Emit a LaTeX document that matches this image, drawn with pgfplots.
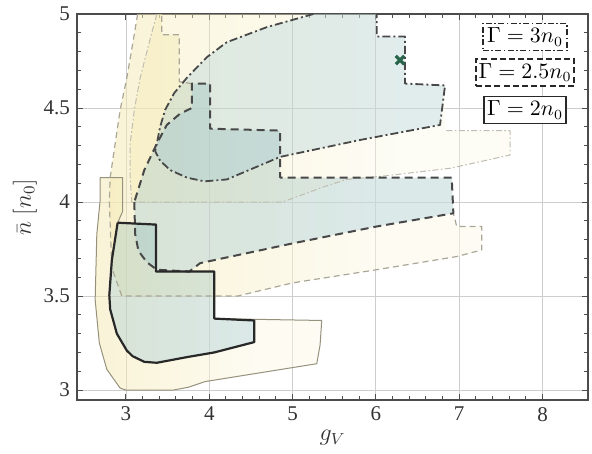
\documentclass[border=0pt]{standalone}
\usepackage{pgfplots}
\pgfplotsset{compat=1.18}
\usepackage{fontspec}
\setmainfont{Liberation Serif}
\definecolor{oy}{RGB}{240,226,150}
\definecolor{ib}{RGB}{140,190,210}
\definecolor{thinc}{RGB}{150,145,125}
\definecolor{thk}{RGB}{40,40,40}
\definecolor{xg}{RGB}{40,100,75}
\definecolor{gridc}{RGB}{205,205,205}
\pgfdeclarehorizontalshading{yfade}{100bp}{color(0bp)=(oy); color(30bp)=(oy!70); color(60bp)=(oy!25); color(100bp)=(oy!20)}
\tikzset{
  thS/.style={line width=1.1pt, color=thk, line join=round},
  thD/.style={line width=1.0pt, color=thk!85, dash pattern=on 4pt off 2.5pt, line join=round},
  thDD/.style={line width=0.9pt, color=thk!85, dash pattern=on 4pt off 1.5pt on 1pt off 1.5pt, line join=round},
  tnS/.style={line width=0.5pt, color=thinc, line join=round},
  tnD/.style={line width=0.6pt, color=thinc!80, dash pattern=on 3pt off 2pt, line join=round},
  tnDD/.style={line width=0.5pt, color=thinc!60, dash pattern=on 3pt off 1.2pt on 0.8pt off 1.2pt, line join=round},
}
\begin{document}
\begin{tikzpicture}
\begin{axis}[
  scale only axis, width=255.5pt, height=193pt,
  xmin=2.412, xmax=8.546, ymin=2.947, ymax=5.0,
  xtick={3,4,5,6,7,8}, ytick={3,3.5,4,4.5,5},
  minor x tick num=4, minor y tick num=4,
  tick align=inside, major tick length=3pt, minor tick length=1.8pt,
  grid=major, major grid style={gridc, line width=0.4pt},
  axis line style={black!70, line width=0.8pt},
  every tick/.style={black!70, line width=0.5pt},
  /pgf/number format/assume math mode=true,
  tick label style={font=\fontsize{10.5}{12}\selectfont, black!80},
  xlabel={$g_V$}, ylabel={$\bar{n}\ [n_0]$},
  label style={font=\large, black!80},
  xlabel style={at={(axis description cs:0.5,-0.098)}, anchor=center},
  ylabel style={at={(axis description cs:-0.102,0.5)}, anchor=center},
  clip=true,
]
% ---- outer (yellow) fills
\addplot[draw=none, shade, shading=yfade, opacity=0.5] coordinates {
(2.69,4.13) (2.96,4.13) (2.96,3.95) (2.90,3.89) (3.36,3.88) (3.36,3.63) (4.06,3.63) (4.06,3.38) (5.35,3.37) (5.33,3.24) (5.29,3.14) (3.95,3.045) (3.75,3.015) (3.57,3.0) (3.0,3.0) (2.93,3.01) (2.77,3.11) (2.68,3.25) (2.63,3.48) (2.65,3.83) (2.69,4.01) (2.69,4.13)};
\addplot[draw=none, shade, shading=yfade, opacity=0.5] coordinates {
(3.14,5.0) (3.08,4.84) (3.01,4.66) (2.93,4.49) (2.87,4.31) (2.81,4.13) (2.80,4.0) (2.83,3.65) (2.95,3.5) (4.34,3.5) (5.0,3.57) (6.01,3.64) (6.97,3.71) (7.27,3.745) (7.27,3.87) (6.97,3.87) (6.93,3.94) (6.91,4.13) (4.85,4.13) (4.85,4.38) (4.01,4.39) (4.01,4.63) (3.64,4.64) (3.64,4.89) (3.43,4.89) (3.43,5.0) (3.14,5.0)};
\addplot[draw=none, shade, shading=yfade, opacity=0.4] coordinates {
(3.37,5.0) (3.28,4.85) (3.17,4.66) (3.10,4.49) (3.05,4.31) (3.05,4.13) (3.07,4.0) (4.88,4.0) (5.37,4.08) (5.65,4.12) (6.13,4.14) (6.9,4.18) (7.61,4.25) (7.61,4.38) (6.83,4.38) (6.83,4.62) (6.35,4.63) (6.35,4.88) (6.01,4.88) (6.01,5.0) (3.37,5.0)};
% ---- inner (blue-green) fills
\addplot[draw=none, fill=ib, fill opacity=0.3] coordinates {
(2.90,3.89) (3.36,3.88) (3.36,3.63) (4.06,3.63) (4.06,3.38) (4.54,3.37) (4.54,3.255) (4.06,3.20) (3.73,3.175) (3.37,3.145) (3.22,3.15) (3.08,3.18) (3.01,3.21) (2.89,3.30) (2.81,3.43) (2.80,3.505) (2.83,3.69) (2.90,3.89)};
\addplot[draw=none, fill=ib, fill opacity=0.3] coordinates {
(3.10,4.0) (3.11,3.83) (3.15,3.74) (3.25,3.68) (3.37,3.64) (3.76,3.63) (3.89,3.675) (5.0,3.78) (6.01,3.87) (6.93,3.94) (6.91,4.13) (4.85,4.13) (4.85,4.38) (4.01,4.39) (4.01,4.63) (3.79,4.63) (3.79,4.50) (3.65,4.47) (3.49,4.41) (3.37,4.31) (3.22,4.17) (3.10,4.0)};
\addplot[draw=none, fill=ib, fill opacity=0.25] coordinates {
(5.25,5.0) (5.09,4.98) (4.69,4.93) (4.21,4.85) (3.97,4.77) (3.73,4.66) (3.58,4.58) (3.47,4.49) (3.41,4.40) (3.37,4.31) (3.35,4.27) (3.41,4.22) (3.53,4.17) (3.73,4.13) (3.94,4.11) (4.21,4.12) (4.85,4.24) (5.81,4.33) (6.77,4.41) (6.83,4.62) (6.35,4.63) (6.35,4.88) (6.01,4.88) (6.01,5.0) (5.25,5.0)};
% ---- thin outlines
\addplot[tnS] coordinates {
(2.69,4.13) (2.96,4.13) (2.96,3.95) (2.90,3.89) (3.36,3.88) (3.36,3.63) (4.06,3.63) (4.06,3.38) (5.35,3.37) (5.33,3.24) (5.29,3.14) (3.95,3.045) (3.75,3.015) (3.57,3.0) (3.0,3.0) (2.93,3.01) (2.77,3.11) (2.68,3.25) (2.63,3.48) (2.65,3.83) (2.69,4.01) (2.69,4.13)};
\addplot[tnD] coordinates {
(3.14,5.0) (3.08,4.84) (3.01,4.66) (2.93,4.49) (2.87,4.31) (2.81,4.13) (2.80,4.0) (2.83,3.65) (2.95,3.5) (4.34,3.5) (5.0,3.57) (6.01,3.64) (6.97,3.71) (7.27,3.745) (7.27,3.87) (6.97,3.87) (6.93,3.94)};
\addplot[tnD] coordinates {(3.79,4.63) (3.64,4.64) (3.64,4.89) (3.43,4.89) (3.43,5.0)};
\addplot[tnDD] coordinates {
(3.37,5.0) (3.28,4.85) (3.17,4.66) (3.10,4.49) (3.05,4.31) (3.05,4.13) (3.07,4.0) (4.88,4.0) (5.37,4.08) (5.65,4.12) (6.13,4.14) (6.9,4.18) (7.61,4.25) (7.61,4.38) (6.83,4.38)};
% ---- thick outlines
\addplot[thDD] coordinates {
(5.25,5.0) (5.09,4.98) (4.69,4.93) (4.21,4.85) (3.97,4.77) (3.73,4.66) (3.58,4.58) (3.47,4.49) (3.41,4.40) (3.37,4.31) (3.35,4.27) (3.41,4.22) (3.53,4.17) (3.73,4.13) (3.94,4.11) (4.21,4.12) (4.85,4.24) (5.81,4.33) (6.77,4.41) (6.83,4.62) (6.35,4.63) (6.35,4.88) (6.01,4.88) (6.01,5.0)};
\addplot[thD] coordinates {
(3.10,4.0) (3.11,3.83) (3.15,3.74) (3.25,3.68) (3.37,3.64) (3.76,3.63) (3.89,3.675) (5.0,3.78) (6.01,3.87) (6.93,3.94) (6.91,4.13) (4.85,4.13) (4.85,4.38) (4.01,4.39) (4.01,4.63) (3.79,4.63) (3.79,4.50) (3.65,4.47) (3.49,4.41) (3.37,4.31) (3.22,4.17) (3.10,4.0)};
\addplot[thS] coordinates {
(2.90,3.89) (3.36,3.88) (3.36,3.63) (4.06,3.63) (4.06,3.38) (4.54,3.37) (4.54,3.255) (4.06,3.20) (3.73,3.175) (3.37,3.145) (3.22,3.15) (3.08,3.18) (3.01,3.21) (2.89,3.30) (2.81,3.43) (2.80,3.505) (2.83,3.69) (2.90,3.89)};
% ---- marker
\addplot[only marks, mark=x, mark size=3pt, color=xg, line width=1.6pt] coordinates {(6.29,4.755)};
% ---- legend boxes
\node[draw=thk, fill=white, line width=0.8pt, dash pattern=on 3pt off 1.2pt on 0.8pt off 1.2pt, minimum width=42pt, minimum height=13.5pt, inner sep=1pt, font=\fontsize{10.5}{12}\selectfont] at (axis cs:7.79,4.878) {$\Gamma = 3n_0$};
\node[draw=thk, fill=white, line width=0.8pt, dash pattern=on 3pt off 1.6pt, minimum width=49pt, minimum height=13.5pt, inner sep=1pt, font=\fontsize{10.5}{12}\selectfont] at (axis cs:7.79,4.69) {$\Gamma = 2.5n_0$};
\node[draw=thk, fill=white, line width=0.8pt, minimum width=41pt, minimum height=13.5pt, inner sep=1pt, font=\fontsize{10.5}{12}\selectfont] at (axis cs:7.79,4.49) {$\Gamma = 2n_0$};
\end{axis}
\path ([shift={(-38.5pt,-26.5pt)}]current axis.south west) rectangle ([shift={(2pt,7pt)}]current axis.north east);
\end{tikzpicture}
\end{document}
